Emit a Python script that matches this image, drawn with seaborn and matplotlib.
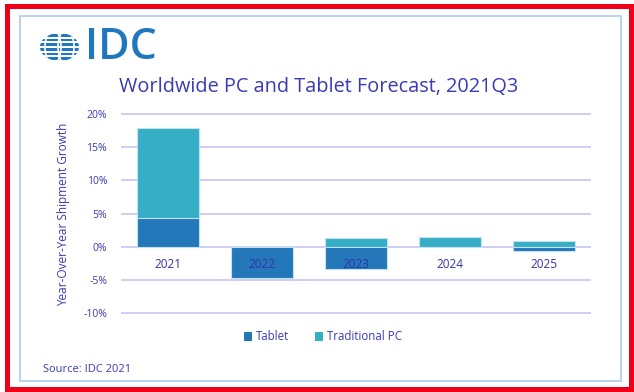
import numpy as np
import pandas as pd
import matplotlib
matplotlib.use("Agg")
import matplotlib.pyplot as plt
from matplotlib.patches import Rectangle, Ellipse, Patch
import seaborn as sns

# Forecast data (year-over-year shipment growth, %)
years = ["2021", "2022", "2023", "2024", "2025"]
tablet = [4.3, -4.7, -3.3, 0.0, -0.6]
traditional_pc = [13.6, 0.0, 1.3, 1.5, 0.8]
series_names = ["Tablet", "Traditional PC"]
y_ticks = [-10, -5, 0, 5, 10, 15, 20]

TABLET_COLOR = "#2477B9"
PC_COLOR = "#36AEC6"
TEXT_COLOR = "#3A3AB8"
GRID_COLOR = "#C6C6F2"
LOGO_COLOR = "#1F78BE"

sns.set_theme(style="white")
plt.rcParams["font.family"] = ["Open Sans", "DejaVu Sans"]

W, H = 634, 392
fig = plt.figure(figsize=(W / 100, H / 100), dpi=100)
fig.patch.set_facecolor("white")


def fx(px):
    return px / W


def fy(py):
    return 1 - py / H


# Stacked layers: positive parts stack upward from tablet, negative downward
df = pd.DataFrame({"year": years, "tablet": tablet, "pc": traditional_pc})
df["pc_top"] = [p + max(t, 0) if p >= 0 else p + min(t, 0)
                for t, p in zip(tablet, traditional_pc)]

ylo, yhi = -10.4, 20.4
px_per = 199 / 30
top_px = 114 - (yhi - 20) * px_per
bot_px = 313 + (-10 - ylo) * px_per
ax = fig.add_axes([fx(121), fy(bot_px), fx(470), (bot_px - top_px) / H])

bar_kw = dict(width=0.65, edgecolor="#BFE3F0", linewidth=0.8, saturation=1)
sns.barplot(data=df, x="year", y="pc_top", color=PC_COLOR, ax=ax, **bar_kw)
sns.barplot(data=df, x="year", y="tablet", color=TABLET_COLOR, ax=ax, **bar_kw)

ax.set_xlim(-0.5, len(years) - 0.5)
ax.set_ylim(ylo, yhi)
ax.set_yticks(y_ticks)
ax.set_yticklabels([f"{v}%" for v in y_ticks])
ax.yaxis.grid(True, color=GRID_COLOR, linewidth=1.2)
ax.set_axisbelow(True)
ax.xaxis.set_zorder(3)
for s in ax.spines.values():
    s.set_visible(False)
ax.spines["bottom"].set_position(("data", 0))
ax.tick_params(axis="y", length=0, pad=10, labelsize=7.5, labelcolor=TEXT_COLOR)
ax.tick_params(axis="x", length=0, pad=8, labelsize=8.5, labelcolor="#3232A8")
ax.set_xlabel("")
ax.set_ylabel("Year-Over-Year Shipment Growth", color=TEXT_COLOR, fontsize=8.5)
ax.yaxis.set_label_coords(0, 0.5)
ax.yaxis.label.set_transform(fig.transFigure)
ax.yaxis.label.set_position((fx(64), fy(214)))
ax.yaxis.label.set_verticalalignment("center")

# Title
fig.text(fx(319), fy(87), "Worldwide PC and Tablet Forecast, 2021Q3",
         ha="center", va="center", fontsize=14.3, color=TEXT_COLOR)

# Legend
handles = [Patch(facecolor=TABLET_COLOR, edgecolor="none"),
           Patch(facecolor=PC_COLOR, edgecolor="none")]
fig.legend(handles, series_names, loc="center", bbox_to_anchor=(fx(323), fy(337)),
           ncol=2, frameon=False, fontsize=8.3, handlelength=0.7, handleheight=0.7,
           handletextpad=0.4, columnspacing=2.2, labelcolor=TEXT_COLOR)

# Source note
fig.text(fx(43), fy(369), "Source: IDC 2021", ha="left", va="center",
         fontsize=8, color=TEXT_COLOR)

# Logo: striped globe + wordmark
lax = fig.add_axes([fx(40), fy(61), fx(39), 28 / H])
lax.set_xlim(0, 39)
lax.set_ylim(0, 28)
lax.axis("off")
clip = Ellipse((19.5, 14), 39, 28, transform=lax.transData)
stripe_h = 28 / 6
for k in range(6):
    r = Rectangle((0, k * stripe_h + 0.9), 39, stripe_h - 1.8,
                  facecolor=LOGO_COLOR, edgecolor="none")
    lax.add_patch(r)
    r.set_clip_path(clip)
for cx, w in [(13, 16), (26, 16)]:
    e = Ellipse((cx, 14), w, 34, facecolor="none", edgecolor="white", linewidth=1.2)
    lax.add_patch(e)
    e.set_clip_path(clip)
fig.text(fx(85), fy(47.5), "IDC", ha="left", va="center", fontsize=31,
         fontweight="semibold", color=LOGO_COLOR)

# Frames
fig.add_artist(Rectangle((fx(19.5), fy(381)), fx(601.5), (381 - 16) / H,
                         transform=fig.transFigure, facecolor="none",
                         edgecolor="#A9CDEA", linewidth=1.2))
fig.add_artist(Rectangle((fx(6.5), fy(389)), fx(624), (389 - 5.5) / H,
                         transform=fig.transFigure, facecolor="none",
                         edgecolor="#F00018", linewidth=3.6))

fig.savefig("out.png", dpi=100)
